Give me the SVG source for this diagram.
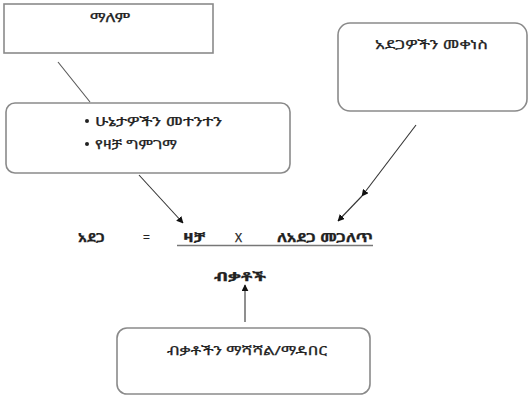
<svg xmlns="http://www.w3.org/2000/svg" width="529" height="399" viewBox="0 0 529 399">
<defs>
<marker id="ah" viewBox="0 0 10 10" refX="9" refY="5" markerWidth="7" markerHeight="7" orient="auto" markerUnits="userSpaceOnUse">
<path d="M0,0 L10,5 L0,10 z" fill="#111"/>
</marker>
<style>
.box{fill:#fff;stroke:#8a8a8a;stroke-width:1.6}
.t{font-family:"Noto Sans Ethiopic","Abyssinica SIL","DejaVu Sans","Noto Sans",sans-serif;font-size:12px;fill:#222;stroke:#222;stroke-width:0.25}
.b{font-weight:bold}
.c{text-anchor:middle}
.ln{stroke:#555;stroke-width:1.1;fill:none}
.ar{stroke:#333;stroke-width:1.1;fill:none;marker-end:url(#ah)}
</style>
</defs>
<rect width="529" height="399" fill="#fff"/>
<g id="node-dream">
<rect class="box" x="4" y="4" width="209" height="49"/>
<text class="t" x="90" y="22" textLength="40" lengthAdjust="spacingAndGlyphs">ማለም</text>
</g>
<g id="node-analysis">
<rect class="box" x="6" y="103" width="284" height="70" rx="9"/>
<circle cx="87" cy="121" r="2" fill="#222"/>
<text class="t" x="95" y="126" textLength="127" lengthAdjust="spacingAndGlyphs">ሁኔታዎችን መተንተን</text>
<circle cx="87" cy="144" r="2" fill="#222"/>
<text class="t" x="95" y="149" textLength="82" lengthAdjust="spacingAndGlyphs">የዛቻ ግምገማ</text>
</g>
<g id="node-reduce">
<rect class="box" x="338" y="23" width="189" height="88" rx="12"/>
<text class="t" x="375" y="49" textLength="113" lengthAdjust="spacingAndGlyphs">አደጋዎችን መቀነስ</text>
</g>
<g id="node-formula">
<text class="t b" x="78" y="242" textLength="27" lengthAdjust="spacingAndGlyphs">አደጋ</text>
<text class="t" x="143" y="242">=</text>
<text class="t b" x="183" y="242" textLength="22" lengthAdjust="spacingAndGlyphs">ዛቻ</text>
<text class="t" x="235" y="242">X</text>
<text class="t b" x="277" y="242" textLength="96" lengthAdjust="spacingAndGlyphs">ለአደጋ መጋለጥ</text>
<line x1="177" y1="245.5" x2="373" y2="245.5" stroke="#777" stroke-width="1.6"/>
<text class="t b" x="214" y="281" textLength="52" lengthAdjust="spacingAndGlyphs">ብቃቶች</text>
</g>
<g id="node-capacity">
<rect class="box" x="117" y="328" width="253" height="66" rx="10"/>
<text class="t" x="167" y="355" textLength="160" lengthAdjust="spacingAndGlyphs">ብቃቶችን ማሻሻል/ማዳበር</text>
</g>
<g id="connectors">
<line class="ln" x1="58" y1="62" x2="90" y2="102"/>
<line class="ar" x1="139" y1="175" x2="183" y2="223"/>
<line class="ar" x1="416" y1="125" x2="362" y2="196"/>
<line class="ar" x1="362" y1="196" x2="338" y2="221"/>
<line class="ar" x1="245" y1="322" x2="245" y2="285"/>
</g>
</svg>
